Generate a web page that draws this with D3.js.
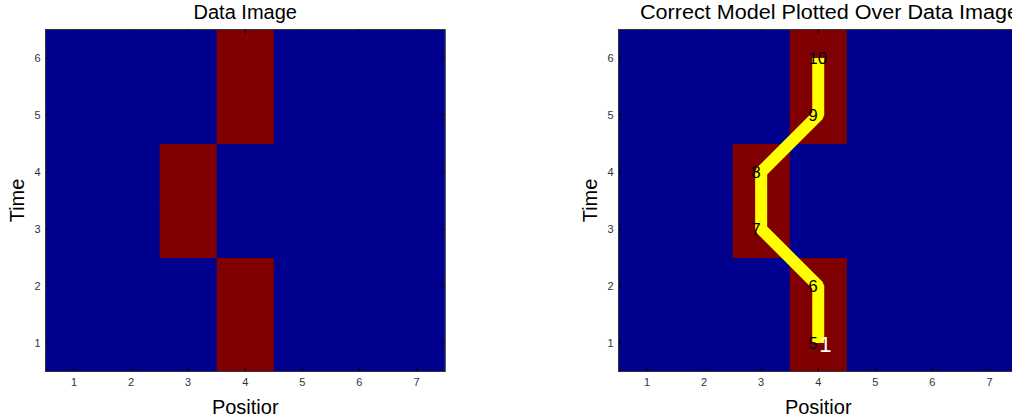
<!DOCTYPE html>
<html>
<head>
<meta charset="utf-8">
<script src="https://cdn.jsdelivr.net/npm/d3@7"></script>
<style>
	body { margin: 0; background: #fff; }
	svg { display: block; font-family: "Liberation Sans", Arial, sans-serif; }
</style>
</head>
<body>
<svg></svg>
<script>
var width = 1012, height = 419;

// grid data: 1 = signal (red), 0 = background (blue)
var positions = [1, 2, 3, 4, 5, 6, 7];
var times = [1, 2, 3, 4, 5, 6];
var hotCells = [[4, 1], [4, 2], [3, 3], [3, 4], [4, 5], [4, 6]];

// model path plotted on the right panel
var modelPos = [4, 4, 3, 3, 4, 4];
var modelTime = [1, 2, 3, 4, 5, 6];
var modelLabels = ["5", "6", "7", "8", "9", "10"];

var titles = ["Data Image", "Correct Model Plotted Over Data Image"];

var svg = d3.select("svg")
	.attr("width", width)
	.attr("height", height);

var panels = [
	{left: 45.5, title: titles[0], model: false},
	{left: 618.5, title: titles[1], model: true}
];
var pw = 399.5, axTop = 29.5, axBottom = 371.5;

var grid = [];
positions.forEach(function(p) {
	times.forEach(function(t) {
		var hot = hotCells.some(function(c) { return c[0] == p && c[1] == t; });
		grid.push({p: p, t: t, v: hot ? 1 : 0});
	});
});

var color = d3.scaleOrdinal().domain([0, 1]).range(["#00008f", "#800000"]);

panels.forEach(function(panel) {
	var x = d3.scaleLinear().domain([0.5, 7.5]).range([panel.left, panel.left + pw]);
	var y = d3.scaleLinear().domain([0.5, 6.5]).range([axBottom, axTop]);
	var g = svg.append("g");

	g.selectAll("rect.cell")
		.data(grid)
		.enter()
		.append("rect")
		.attr("class", "cell")
		.attr("x", function(d) { return x(d.p - 0.5); })
		.attr("y", function(d) { return y(d.t + 0.5); })
		.attr("width", function(d) { return x(d.p + 0.5) - x(d.p - 0.5) + 0.5; })
		.attr("height", function(d) { return y(d.t - 0.5) - y(d.t + 0.5) + 0.5; })
		.attr("fill", function(d) { return color(d.v); });

	if (panel.model) {
		var pts = modelPos.map(function(p, i) { return [x(p), y(modelTime[i])]; });
		g.append("path")
			.attr("d", d3.line()(pts))
			.attr("fill", "none")
			.attr("stroke", "#ffff00")
			.attr("stroke-width", 12)
			.attr("stroke-linejoin", "bevel");
		g.selectAll("text.lab")
			.data(pts)
			.enter()
			.append("text")
			.attr("class", "lab")
			.attr("x", function(d) { return d[0] - 10; })
			.attr("y", function(d) { return d[1]; })
			.attr("dy", "0.36em")
			.attr("font-size", 17)
			.attr("fill", "#000")
			.text(function(d, i) { return modelLabels[i]; });
		// start marker
		g.append("text")
			.attr("x", pts[0][0] + 1)
			.attr("y", pts[0][1] + 8.5)
			.attr("font-size", 22)
			.attr("fill", "#fff")
			.text("1");
	}

	// ticks inside on all four sides
	var tk = 4;
	positions.forEach(function(p) {
		g.append("line").attr("x1", x(p)).attr("x2", x(p)).attr("y1", axBottom).attr("y2", axBottom - tk).attr("stroke", "#000");
		g.append("line").attr("x1", x(p)).attr("x2", x(p)).attr("y1", axTop).attr("y2", axTop + tk).attr("stroke", "#000");
	});
	times.forEach(function(t) {
		g.append("line").attr("x1", panel.left).attr("x2", panel.left + tk).attr("y1", y(t)).attr("y2", y(t)).attr("stroke", "#000");
		g.append("line").attr("x1", panel.left + pw).attr("x2", panel.left + pw - tk).attr("y1", y(t)).attr("y2", y(t)).attr("stroke", "#000");
	});

	g.append("rect")
		.attr("x", panel.left)
		.attr("y", axTop)
		.attr("width", pw)
		.attr("height", axBottom - axTop)
		.attr("fill", "none")
		.attr("stroke", "#333");

	g.selectAll("text.xt")
		.data(positions)
		.enter()
		.append("text")
		.attr("class", "xt")
		.attr("x", function(d) { return x(d); })
		.attr("y", 386)
		.attr("text-anchor", "middle")
		.attr("font-size", 11)
		.attr("fill", "#333")
		.text(function(d) { return d; });

	g.selectAll("text.yt")
		.data(times)
		.enter()
		.append("text")
		.attr("class", "yt")
		.attr("x", panel.left - 5)
		.attr("y", function(d) { return y(d); })
		.attr("dy", "0.35em")
		.attr("text-anchor", "end")
		.attr("font-size", 11)
		.attr("fill", "#333")
		.text(function(d) { return d; });

	var cx = panel.left + pw / 2;
	var t = g.append("text")
		.attr("y", 18.5)
		.attr("font-size", 20)
		.attr("fill", "#000")
		.text(panel.title);
	if (panel.model) {
		t.attr("x", 640).attr("textLength", 379).attr("lengthAdjust", "spacingAndGlyphs");
	} else {
		t.attr("x", cx).attr("text-anchor", "middle");
	}

	g.append("text")
		.attr("x", cx)
		.attr("y", 414)
		.attr("text-anchor", "middle")
		.attr("font-size", 20)
		.attr("fill", "#000")
		.text("Positior");

	g.append("text")
		.attr("transform", "translate(" + (panel.left - 22) + "," + ((axTop + axBottom) / 2) + ") rotate(-90)")
		.attr("text-anchor", "middle")
		.attr("font-size", 20)
		.attr("fill", "#000")
		.text("Time");
});
</script>
</body>
</html>
